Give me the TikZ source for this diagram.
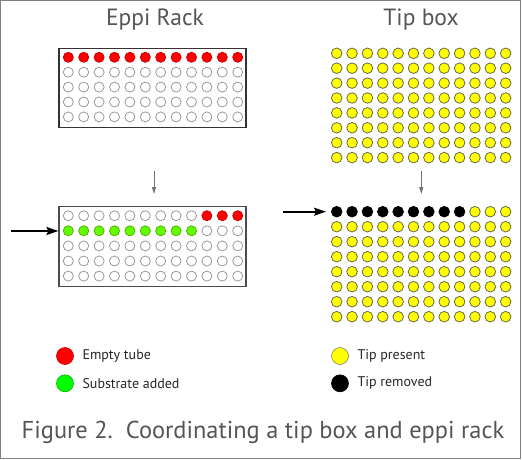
\documentclass[tikz,border=0pt]{standalone}
\usepackage{fontspec}
\setmainfont{PT Sans}
\usetikzlibrary{arrows.meta}
\definecolor{txtgray}{HTML}{555555}
\definecolor{wellgray}{HTML}{9A9A9A}
\definecolor{myred}{HTML}{FF0000}
\definecolor{mygreen}{HTML}{66FF00}
\definecolor{leggreen}{HTML}{00FF00}
\definecolor{myyellow}{HTML}{FFFF00}
\tikzset{
  well/.style={circle, draw=wellgray, line width=0.8pt, fill=white, minimum size=10pt, inner sep=0pt},
  redwell/.style={well, fill=myred, draw=myred!80!black},
  greenwell/.style={well, fill=mygreen, draw=mygreen!70!black},
  tip/.style={circle, draw=wellgray!80!yellow!60!black, line width=0.8pt, fill=myyellow, minimum size=10.6pt, inner sep=0pt},
  blacktip/.style={tip, fill=black, draw=black},
  rackbox/.style={draw=black!80, line width=1.2pt, fill=white, inner sep=0pt},
  title/.style={text=txtgray, font=\fontsize{23.5}{26}\selectfont},
  legtext/.style={text=black!85, font=\fontsize{14}{16}\selectfont, anchor=west},
  legdot/.style={circle, minimum size=17pt, inner sep=0pt, line width=0.6pt},
  grayarrow/.style={draw=black!55, line width=0.9pt, -{Triangle[length=7pt,width=4pt]}},
  blackarrow/.style={draw=black, line width=1.6pt, -{Stealth[length=12pt,width=8pt,inset=2pt]}},
}
\begin{document}
\begin{tikzpicture}[x=1pt,y=-1pt]
\useasboundingbox (0,0) rectangle (522,460);
\draw[draw=black!50, line width=1.2pt] (0.6,0.6) rectangle (520.4,458.4);
% titles
\node[title] (t1) at (155,20) {Eppi Rack};
\node[title] (t2) at (421,20) {Tip box};
% rack 1
\node[rackbox, minimum width=187pt, minimum height=79.5pt] (rack1) at (152.5,88) {};
\foreach \i in {0,...,11}{
  \node[redwell] (ra-\i-0) at ({68.3+15.4*\i},57.3) {};
  \foreach \j in {1,...,4}{
    \node[well] (ra-\i-\j) at ({68.3+15.4*\i},{57.3+14.9*\j}) {};
  }
}
% rack 2
\node[rackbox, draw=black!70, minimum width=187pt, minimum height=79.5pt] (rack2) at (152.5,246.5) {};
\foreach \i in {0,...,11}{
  \foreach \j in {0,...,4}{
    \pgfmathtruncatemacro{\st}{(\j==0 && \i>8) ? 1 : ((\j==1 && \i<9) ? 2 : 0)}
    \ifcase\st
      \node[well] (rb-\i-\j) at ({68.3+15.4*\i},{215.7+15.1*\j}) {};
    \or
      \node[redwell] (rb-\i-\j) at ({68.3+15.4*\i},{215.7+15.1*\j}) {};
    \or
      \node[greenwell] (rb-\i-\j) at ({68.3+15.4*\i},{215.7+15.1*\j}) {};
    \fi
  }
}
% tip box 1
\foreach \i in {0,...,11}{
  \foreach \j in {0,...,7}{
    \node[tip] (ta-\i-\j) at ({336.7+15.36*\i},{53.3+14.9*\j}) {};
  }
}
% tip box 2
\foreach \i in {0,...,11}{
  \foreach \j in {0,...,7}{
    \pgfmathtruncatemacro{\st}{(\j==0 && \i<9) ? 1 : 0}
    \ifnum\st=1
      \node[blacktip] (tb-\i-\j) at ({336.7+15.36*\i},{211.7+15*\j}) {};
    \else
      \node[tip] (tb-\i-\j) at ({336.7+15.36*\i},{211.7+15*\j}) {};
    \fi
  }
}
% arrows
\coordinate (g1s) at (154,171);
\coordinate (g1e) at (154,194);
\coordinate (g2s) at (421.3,171);
\coordinate (g2e) at (421.3,194);
\draw[grayarrow] (g1s) -- (g1e);
\draw[grayarrow] (g2s) -- (g2e);
\coordinate (b1s) at (11,231);
\coordinate (b2s) at (282.7,211.7);
\draw[blackarrow] (b1s) -- (b1s -| rack2.west);
\draw[blackarrow] (b2s) -- ([xshift=-5pt]tb-0-0.west);
% legend
\node[legdot, fill=myred, draw=myred!80!black] (l1) at (65,356) {};
\node[legtext] (l1t) at (79,356) {Empty tube};
\node[legdot, fill=leggreen, draw=leggreen!70!black] (l2) at (65,383.3) {};
\node[legtext] (l2t) at (79,383.3) {Substrate added};
\node[legdot, fill=myyellow, draw=black!50] (l3) at (340,356) {};
\node[legtext] (l3t) at (354,356) {Tip present};
\node[legdot, fill=black, draw=black] (l4) at (340,383.3) {};
\node[legtext] (l4t) at (354,383.3) {Tip removed};
% caption
\node[text=txtgray, font=\fontsize{24.4}{28}\selectfont] (cap) at (263,432) {Figure 2.\ \ Coordinating a tip box and eppi rack};
\end{tikzpicture}
\end{document}
